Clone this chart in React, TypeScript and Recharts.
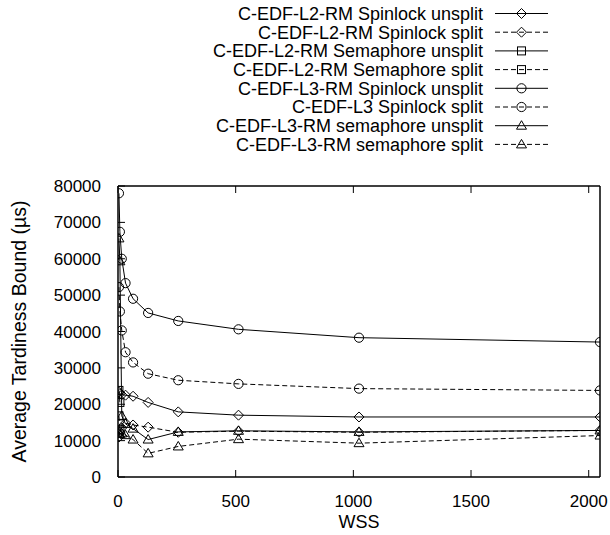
import React from "react";
import { LineChart, Line, XAxis, YAxis, Legend } from "recharts";

// WSS values (x) and the tardiness bound of every series
const wss = [4, 8, 16, 32, 64, 128, 256, 512, 1024, 2048];
const l2SpinUnsplit = [23300, 22900, 22600, 22500, 22200, 20500, 17900, 17000, 16500, 16500];
const l2SpinSplit = [11000, 12300, 13500, 14800, 14300, 13700, 12300, 12600, 12300, 12800];
const l2SemUnsplit = [23800, 20500];
const l2SemSplit = [16800, 13000];
const l3SpinUnsplit = [78000, 67400, 60000, 53300, 49000, 45100, 42900, 40600, 38300, 37100];
const l3SpinSplit = [52200, 45500, 40300, 34300, 31500, 28400, 26600, 25600, 24300, 23800];
const l3SemUnsplit = [65600, 59300, 16800, 14600, 13300, 10300, 12400, 12700, 12400, 12800];
const l3SemSplit = [12500, 11800, 12000, 11500, 10300, 6500, 8400, 10400, 9300, 11400];

const xTicks = [0, 500, 1000, 1500, 2000];
const yTicks = [0, 10000, 20000, 30000, 40000, 50000, 60000, 70000, 80000];

const series = [
  { key: "s0", name: "C-EDF-L2-RM Spinlock unsplit", values: l2SpinUnsplit, dashed: false, shape: "diamond" },
  { key: "s1", name: "C-EDF-L2-RM Spinlock split", values: l2SpinSplit, dashed: true, shape: "diamond" },
  { key: "s2", name: "C-EDF-L2-RM Semaphore unsplit", values: l2SemUnsplit, dashed: false, shape: "square" },
  { key: "s3", name: "C-EDF-L2-RM Semaphore split", values: l2SemSplit, dashed: true, shape: "square" },
  { key: "s4", name: "C-EDF-L3-RM Spinlock unsplit", values: l3SpinUnsplit, dashed: false, shape: "circle" },
  { key: "s5", name: "C-EDF-L3 Spinlock split", values: l3SpinSplit, dashed: true, shape: "circle" },
  { key: "s6", name: "C-EDF-L3-RM semaphore unsplit", values: l3SemUnsplit, dashed: false, shape: "triangle" },
  { key: "s7", name: "C-EDF-L3-RM semaphore split", values: l3SemSplit, dashed: true, shape: "triangle" },
];

const data = wss.map((w, i) => {
  const row: any = { wss: w };
  series.forEach((s) => {
    row[s.key] = s.values[i] ?? null;
  });
  return row;
});

const DASH = "5 3";

const Marker = ({ shape, cx, cy }: { shape: string; cx: number; cy: number }) => {
  const st = { fill: "none", stroke: "#000", strokeWidth: 1 };
  if (shape === "diamond")
    return <polygon points={`${cx},${cy - 5} ${cx + 5},${cy} ${cx},${cy + 5} ${cx - 5},${cy}`} {...st} />;
  if (shape === "square") return <rect x={cx - 4} y={cy - 4} width={8} height={8} {...st} />;
  if (shape === "circle") return <circle cx={cx} cy={cy} r={4.6} {...st} />;
  return <polygon points={`${cx},${cy - 5} ${cx + 5},${cy + 3.5} ${cx - 5},${cy + 3.5}`} {...st} />;
};

const makeDot = (shape: string) => (p: any) => {
  if (p.value == null || p.cy == null) return <g key={p.key ?? p.index} />;
  return (
    <g key={p.key ?? p.index}>
      <Marker shape={shape} cx={p.cx} cy={p.cy} />
    </g>
  );
};

// gnuplot style: tick marks point into the plot
const LeftTick = (p: any) => (
  <g>
    <line x1={p.x + 17} x2={p.x + 24} y1={p.y} y2={p.y} stroke="#000" />
    <text x={p.x} y={p.y} dy="0.355em" textAnchor="end" fill="#000" fontSize={17}>
      {p.payload.value}
    </text>
  </g>
);

const RightTick = (p: any) => <line x1={p.x - 7} x2={p.x} y1={p.y} y2={p.y} stroke="#000" />;

const BottomTick = (p: any) => (
  <g>
    <line x1={p.x} x2={p.x} y1={p.y - 18} y2={p.y - 25} stroke="#000" />
    <text x={p.x} y={p.y} dy="0.71em" textAnchor="middle" fill="#000" fontSize={17}>
      {p.payload.value}
    </text>
  </g>
);

const TopTick = (p: any) => <line x1={p.x} x2={p.x} y1={p.y} y2={p.y + 7} stroke="#000" />;

const renderLegend = () => (
  <svg width={610} height={160} style={{ display: "block" }}>
    {series.map((s, i) => {
      const y = 13.5 + i * 18.7;
      return (
        <g key={s.key}>
          <text x={483} y={y} dy="0.355em" textAnchor="end" fill="#000" fontSize={18}>
            {s.name}
          </text>
          <line x1={495} x2={548} y1={y} y2={y} stroke="#000" strokeDasharray={s.dashed ? DASH : undefined} />
          <Marker shape={s.shape} cx={521.5} cy={y} />
        </g>
      );
    })}
  </svg>
);

const axisLine = { stroke: "#000", strokeWidth: 1.5 };

const App = () => {
  return (
    <div style={{ position: "absolute", left: 0, top: 0, fontFamily: "'Liberation Sans', Arial, Helvetica, sans-serif" }}>
      <LineChart width={610} height={535} data={data} margin={{ top: 185, right: 9, bottom: 0, left: 0 }}>
        <XAxis
          xAxisId="b"
          dataKey="wss"
          type="number"
          domain={[0, 2048]}
          allowDataOverflow
          ticks={xTicks}
          height={58}
          tickSize={0}
          tickMargin={18}
          axisLine={axisLine}
          tick={BottomTick}
          label={{ value: "WSS", position: "insideBottom", offset: 7, fill: "#000", fontSize: 18 }}
        />
        <XAxis
          xAxisId="t"
          orientation="top"
          dataKey="wss"
          type="number"
          domain={[0, 2048]}
          allowDataOverflow
          ticks={xTicks}
          height={1}
          tickSize={0}
          tickMargin={0}
          axisLine={axisLine}
          tick={TopTick}
        />
        <YAxis
          yAxisId="l"
          type="number"
          domain={[0, 80000]}
          ticks={yTicks}
          width={118}
          tickSize={0}
          tickMargin={17}
          axisLine={axisLine}
          tick={LeftTick}
          label={{
            value: "Average Tardiness Bound (µs)",
            angle: -90,
            position: "insideLeft",
            offset: 19,
            fill: "#000",
            fontSize: 19.5,
            style: { textAnchor: "middle" },
          }}
        />
        <YAxis
          yAxisId="r"
          orientation="right"
          type="number"
          domain={[0, 80000]}
          ticks={yTicks}
          width={1}
          tickSize={0}
          tickMargin={0}
          axisLine={axisLine}
          tick={RightTick}
        />
        <Legend
          layout="vertical"
          verticalAlign="middle"
          align="center"
          wrapperStyle={{ top: 0, left: 0, width: 610, height: 160 }}
          content={renderLegend}
        />
        {series.map((s) => (
          <Line
            key={s.key}
            xAxisId="b"
            yAxisId="l"
            dataKey={s.key}
            name={s.name}
            type="linear"
            stroke="#000"
            strokeWidth={1}
            strokeDasharray={s.dashed ? DASH : undefined}
            dot={makeDot(s.shape)}
            activeDot={false}
            isAnimationActive={false}
          />
        ))}
      </LineChart>
    </div>
  );
};

export default App;
